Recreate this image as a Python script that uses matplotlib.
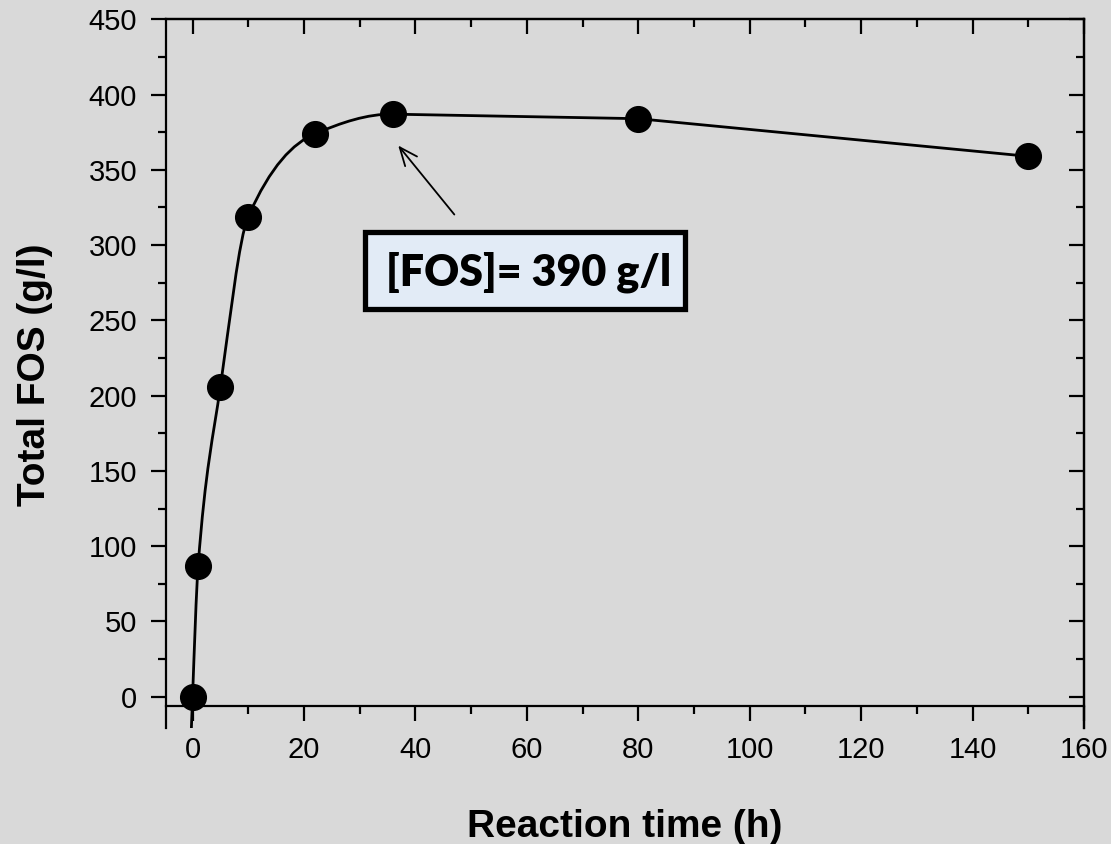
import matplotlib
matplotlib.use("Agg")
import matplotlib.pyplot as plt
from matplotlib.path import Path
from matplotlib.patches import PathPatch, Rectangle
import numpy as np

# reaction time (h) and total FOS (g/l)
time_h = [0, 1, 5, 10, 22, 36, 80, 150]
fos = [0, 87, 206, 319, 374, 387, 384, 359]
n_curved = 6  # points joined by the smooth part of the line, rest is straight

x_ticks = list(range(0, 161, 20))
y_ticks = list(range(0, 451, 50))
box_text = "[FOS]= 390 g/l"

bg = "#d9d9d9"
plt.rcParams['font.family'] = ['Liberation Sans', 'DejaVu Sans']

fig = plt.figure(figsize=(11.11, 8.44), dpi=100, facecolor=bg)
ax = fig.add_axes([0.1491, 0.1374, 0.8266, 0.8397], facecolor=bg)
ax.set_xlim(-4.83, 160)
ax.set_ylim(-20.8, 450)


# monotone cubic tangents for the smooth part
def tangents(x, y, end_slope):
    x = np.asarray(x, float)
    y = np.asarray(y, float)
    h = np.diff(x)
    d = np.diff(y) / h
    m = np.zeros(len(x))
    for i in range(1, len(x) - 1):
        if d[i - 1] * d[i] > 0:
            w1 = 2 * h[i] + h[i - 1]
            w2 = h[i] + 2 * h[i - 1]
            m[i] = (w1 + w2) / (w1 / d[i - 1] + w2 / d[i])
    m[0] = ((2 * h[0] + h[1]) * d[0] - h[0] * d[1]) / (h[0] + h[1])
    m[-1] = end_slope
    return m


xs = time_h[:n_curved]
ys = fos[:n_curved]
next_slope = (fos[n_curved] - fos[n_curved - 1]) / (time_h[n_curved] - time_h[n_curved - 1])
m = tangents(xs, ys, next_slope)
ext = 0.35
verts = [(xs[0] - ext, ys[0] - ext * m[0]), (xs[0], ys[0])]
codes = [Path.MOVETO, Path.LINETO]
for i in range(len(xs) - 1):
    h = xs[i + 1] - xs[i]
    verts += [(xs[i] + h / 3, ys[i] + m[i] * h / 3),
              (xs[i + 1] - h / 3, ys[i + 1] - m[i + 1] * h / 3),
              (xs[i + 1], ys[i + 1])]
    codes += [Path.CURVE4] * 3
for xv, yv in zip(time_h[n_curved:], fos[n_curved:]):
    verts.append((xv, yv))
    codes.append(Path.LINETO)
ax.add_patch(PathPatch(Path(verts, codes), fill=False, lw=2, color='black', zorder=2))

ax.plot(time_h, fos, 'o', color='black', ms=18.5, zorder=3)

# spines like the Origin layout
for s in ax.spines.values():
    s.set_linewidth(1.6)
ax.spines['bottom'].set_position(('data', -6))

ax.set_xticks(x_ticks)
ax.set_xticks(range(10, 160, 20), minor=True)
ax.set_yticks(y_ticks)
ax.set_yticks(range(25, 450, 50), minor=True)
ax.tick_params(which='both', direction='out', width=1.6, labelsize=21)
ax.tick_params(which='major', length=10.5)
ax.tick_params(which='minor', length=5.5)
ax.tick_params(axis='x', pad=11)
ax.tick_params(axis='y', pad=10)

top = ax.secondary_xaxis('top')
top.set_xticks(x_ticks)
top.set_xticks(range(10, 160, 20), minor=True)
top.tick_params(which='both', direction='in', width=1.6, labeltop=False)
top.tick_params(which='major', length=10.5)
top.tick_params(which='minor', length=5.5)
top.spines['top'].set_linewidth(1.6)

right = ax.secondary_yaxis('right')
right.set_yticks(y_ticks)
right.set_yticks(range(25, 450, 50), minor=True)
right.tick_params(which='both', direction='in', width=1.6, labelright=False)
right.tick_params(which='major', length=10.5)
right.tick_params(which='minor', length=5.5)
right.spines['right'].set_linewidth(1.6)

fig.text(0.5626, 1 - 837 / 844, "Reaction time (h)", fontsize=28, fontweight='bold',
         ha='center', va='baseline')
fig.text(45 / 1111, 1 - 374.5 / 844, "Total FOS (g/l)", fontsize=28, fontweight='bold',
         rotation=90, rotation_mode='anchor', ha='center', va='baseline')

# annotation box and arrow
ax.add_patch(Rectangle((0.2170, 0.5909), 0.3480, 0.1097, transform=ax.transAxes,
                       facecolor='#e2ebf6', edgecolor='black', lw=3.8, zorder=4))
ax.text(0.3956, 0.6251, box_text, transform=ax.transAxes, fontsize=31,
        fontweight='heavy', family=['Lato', 'DejaVu Sans'], ha='center', va='baseline', zorder=5)
ax.annotate("", xy=(36.6, 367.6), xytext=(47.3, 318.9),
            arrowprops=dict(arrowstyle='->,head_length=1.3,head_width=0.55', lw=1.3, color='black'))

fig.savefig("out.png", dpi=100, facecolor=bg)
